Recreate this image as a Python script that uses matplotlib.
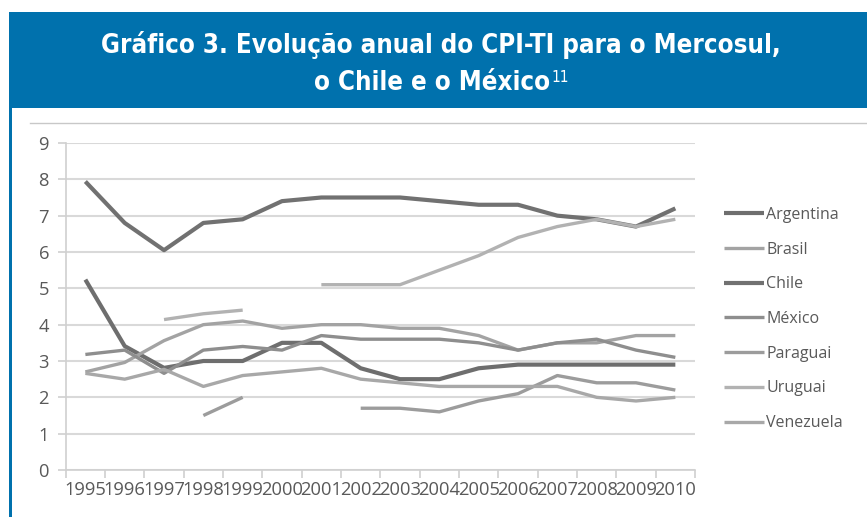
import numpy as np
import matplotlib.pyplot as plt
from matplotlib.patches import Rectangle
from matplotlib.lines import Line2D

# dados (CPI-TI)
anos = ['1995', '1996', '1997', '1998', '1999', '2000', '2001', '2002',
        '2003', '2004', '2005', '2006', '2007', '2008', '2009', '2010']
nan = np.nan
argentina = [5.24, 3.41, 2.81, 3.0, 3.0, 3.5, 3.5, 2.8, 2.5, 2.5, 2.8, 2.9, 2.9, 2.9, 2.9, 2.9]
brasil = [2.7, 2.96, 3.56, 4.0, 4.1, 3.9, 4.0, 4.0, 3.9, 3.9, 3.7, 3.3, 3.5, 3.5, 3.7, 3.7]
chile = [7.94, 6.8, 6.05, 6.8, 6.9, 7.4, 7.5, 7.5, 7.5, 7.4, 7.3, 7.3, 7.0, 6.9, 6.7, 7.2]
mexico = [3.18, 3.3, 2.66, 3.3, 3.4, 3.3, 3.7, 3.6, 3.6, 3.6, 3.5, 3.3, 3.5, 3.6, 3.3, 3.1]
paraguai = [nan, nan, nan, 1.5, 2.0, nan, nan, 1.7, 1.7, 1.6, 1.9, 2.1, 2.6, 2.4, 2.4, 2.2]
uruguai = [nan, nan, 4.14, 4.3, 4.4, nan, 5.1, 5.1, 5.1, 5.5, 5.9, 6.4, 6.7, 6.9, 6.7, 6.9]
venezuela = [2.66, 2.5, 2.77, 2.3, 2.6, 2.7, 2.8, 2.5, 2.4, 2.3, 2.3, 2.3, 2.3, 2.0, 1.9, 2.0]

nomes = ['Argentina', 'Brasil', 'Chile', 'México', 'Paraguai', 'Uruguai', 'Venezuela']
series = [argentina, brasil, chile, mexico, paraguai, uruguai, venezuela]
cores = ['#6e6e6e', '#a3a3a3', '#717171', '#8e8e8e', '#9c9c9c', '#b2b2b2', '#a8a8a8']
larguras = [3.0, 2.4, 3.0, 2.4, 2.4, 2.4, 2.4]

W, H = 867, 517
fig = plt.figure(figsize=(W / 100, H / 100), dpi=100)

# faixa azul do título e moldura
azul = '#0071ad'
fig.patches.append(Rectangle((9 / W, 1 - 108 / H), 1, 96 / H, transform=fig.transFigure,
                             facecolor=azul, edgecolor='none', zorder=-2))
fig.patches.append(Rectangle((9 / W, 0), 3 / W, 1 - 12 / H, transform=fig.transFigure,
                             facecolor=azul, edgecolor='none', zorder=-2))
fig.lines.append(Line2D([30 / W, 1], [1 - 123 / H] * 2, transform=fig.transFigure,
                        color='#c8c8c8', lw=1, zorder=-2))

fonte_tit = dict(color='white', fontweight='bold', fontsize=18.5, family='DejaVu Sans',
                 fontstretch='condensed', ha='center', va='center')
fig.text(441 / W, 1 - 45 / H, 'Gráfico 3. Evolução anual do CPI-TI para o Mercosul,', **fonte_tit)
t2 = fig.text(432 / W, 1 - 83 / H, 'o Chile e o México', **fonte_tit)

# área do gráfico
ax = fig.add_axes([65.7 / W, 1 - 470 / H, (695 - 65.7) / W, (470 - 143) / H])
ax.annotate('11', xy=(1, 1), xycoords=t2, xytext=(1, 0), textcoords='offset points',
            color='white', fontsize=11, family='DejaVu Sans', fontstretch='condensed',
            va='top', ha='left', annotation_clip=False, clip_on=False, zorder=10)

x = np.arange(len(anos))
for nome, s, c, lw in zip(nomes, series, cores, larguras):
    ax.plot(x, s, color=c, lw=lw, label=nome, solid_capstyle='butt')

ax.set_xlim(-0.5, len(anos) - 0.5)
ax.set_ylim(0, 9)
ax.set_yticks(range(10))
ax.set_xticks(x)
ax.set_xticklabels(anos)
ax.set_xticks(np.arange(-0.5, len(anos)), minor=True)
ax.tick_params(axis='x', which='major', length=0, pad=8)
ax.tick_params(axis='x', which='minor', length=6, color='#d0d0d0', width=1.2)
ax.tick_params(axis='y', length=6, color='#d0d0d0', width=1.2, pad=6)
ax.grid(axis='y', color='#d9d9d9', lw=1.5)
ax.set_axisbelow(True)
for lab in ax.get_xticklabels() + ax.get_yticklabels():
    lab.set_family('Open Sans')
    lab.set_fontsize(13.2)
    lab.set_color('#595959')
for s in ['top', 'right']:
    ax.spines[s].set_visible(False)
for s in ['left', 'bottom']:
    ax.spines[s].set_color('#d0d0d0')
    ax.spines[s].set_linewidth(1.2)

leg = ax.legend(loc='upper left', bbox_to_anchor=(724 / W, 1 - 207 / H),
                bbox_transform=fig.transFigure, frameon=False, handlelength=2.5,
                handletextpad=0.15, labelspacing=1.17, borderaxespad=0, borderpad=0,
                prop={'family': 'Open Sans', 'size': 11.5})
for t in leg.get_texts():
    t.set_color('#595959')

fig.savefig('out.png', dpi=100)
